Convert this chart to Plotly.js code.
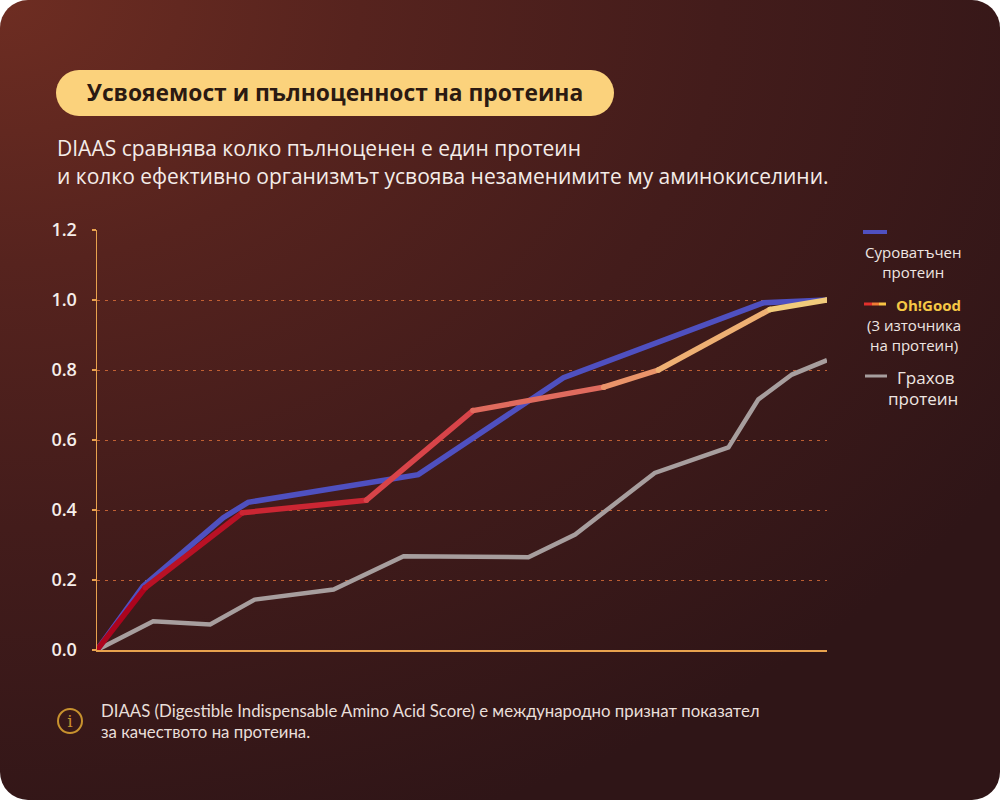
<!DOCTYPE html>
<html>
<head>
<meta charset="utf-8">
<script src="https://cdn.plot.ly/plotly-3.0.1.min.js"></script>
<style>
  html, body { margin: 0; padding: 0; background: #ffffff; }
  #wrap { position: relative; width: 1000px; height: 800px; overflow: hidden; }
  #card {
    position: absolute; left: 0; top: 0; width: 1000px; height: 800px;
    border-radius: 28px;
    background: radial-gradient(ellipse 120% 110% at 0% 0%, #6e2d22 0%, #56231e 30%, #431c1b 60%, #2f1517 100%);
  }
  #pill {
    position: absolute; left: 56px; top: 70px; width: 558px; height: 46px;
    border-radius: 23px; background: #fbd27c;
    font-family: "Open Sans", sans-serif; font-weight: 700; font-size: 22.8px;
    color: #2b1a12; text-align: center; line-height: 46px;
  }
  #sub {
    position: absolute; left: 57px; top: 134px;
    font-family: "Open Sans", sans-serif; font-size: 21px; line-height: 28px;
    color: #f4ece8; white-space: nowrap;
  }
  #note {
    position: absolute; left: 101px; top: 700px;
    font-family: "Lato", sans-serif; font-size: 16.8px; line-height: 21px;
    color: #e9dfda; white-space: nowrap;
  }
  #icon {
    position: absolute; left: 57px; top: 708px; width: 22px; height: 22px;
    border: 2.5px solid #c8922e; border-radius: 50%;
    font-family: "DejaVu Serif", serif; font-size: 17px; color: #c8922e;
    text-align: center; line-height: 22px;
  }
  #plot { position: absolute; left: 0; top: 0; width: 1000px; height: 800px; }
</style>
</head>
<body>
<div id="wrap">
  <div id="card"></div>
  <div id="pill">Усвояемост и пълноценност на протеина</div>
  <div id="sub">DIAAS сравнява колко пълноценен е един протеин<br>и колко ефективно организмът усвоява незаменимите му аминокиселини.</div>
  <div id="plot"></div>
  <div id="icon">i</div>
  <div id="note">DIAAS (Digestible Indispensable Amino Acid Score) е международно признат показател<br>за качеството на протеина.</div>
</div>
<script>
// ---- data ----
var seriesNames = ["Суроватъчен протеин", "Oh!Good (3 източника на протеин)", "Грахов протеин"];
var wheyX = [0, 6.3, 17.3, 20.7, 44.0, 63.9, 91.3, 100];
var wheyY = [0, 0.182, 0.378, 0.422, 0.501, 0.778, 0.992, 1.0];
var ohgoodX = [0, 6.6, 19.9, 36.9, 51.5, 69.4, 76.9, 92.2, 100];
var ohgoodY = [0, 0.178, 0.392, 0.428, 0.684, 0.751, 0.800, 0.973, 1.0];
var peaX = [0, 7.7, 15.5, 21.6, 32.4, 42.0, 59.1, 65.5, 76.4, 86.5, 90.6, 95.2, 100];
var peaY = [0, 0.082, 0.073, 0.144, 0.173, 0.268, 0.265, 0.330, 0.506, 0.579, 0.716, 0.787, 0.828];
var yTickVals = [0, 0.2, 0.4, 0.6, 0.8, 1.0, 1.2];
var yTickText = ["0.0", "0.2", "0.4", "0.6", "0.8", "1.0", "1.2"];

// ---- styling helpers ----
var gradStops = [
  [0.00, [168, 0, 26]],
  [0.25, [200, 32, 46]],
  [0.45, [217, 69, 74]],
  [0.60, [224, 106, 94]],
  [0.75, [235, 154, 108]],
  [1.00, [242, 212, 126]]
];
function gradColor(t) {
  for (var i = 0; i < gradStops.length - 1; i++) {
    var a = gradStops[i], b = gradStops[i + 1];
    if (t <= b[0]) {
      var f = (t - a[0]) / (b[0] - a[0]);
      var c = a[1].map(function (v, k) { return Math.round(v + (b[1][k] - v) * f); });
      return "rgb(" + c.join(",") + ")";
    }
  }
  var l = gradStops[gradStops.length - 1][1];
  return "rgb(" + l.join(",") + ")";
}

var traces = [];
traces.push({
  x: peaX, y: peaY, type: "scatter", mode: "lines", name: seriesNames[2],
  line: { color: "#a79e9e", width: 4.5 }, hoverinfo: "skip"
});
traces.push({
  x: wheyX, y: wheyY, type: "scatter", mode: "lines", name: seriesNames[0],
  line: { color: "#4f50c0", width: 5.5 }, hoverinfo: "skip"
});
var xmax = ohgoodX[ohgoodX.length - 1];
for (var i = 0; i < ohgoodX.length - 1; i++) {
  var col = gradColor(((ohgoodX[i] + ohgoodX[i + 1]) / 2) / xmax);
  traces.push({
    x: [ohgoodX[i], ohgoodX[i + 1]], y: [ohgoodY[i], ohgoodY[i + 1]],
    type: "scatter", mode: "lines+markers", name: seriesNames[1],
    line: { color: col, width: 5.5 },
    marker: { color: col, size: 5.5, line: { width: 0 } },
    cliponaxis: true, hoverinfo: "skip"
  });
}

// pixel helpers for legend placement (plot area 97..827 x 230..650)
function px(p) { return (p - 97) / 730; }
function py(p) { return (650 - p) / 420; }

var legFont = { family: "Open Sans, sans-serif", size: 15, color: "#efe6e2" };
var annotations = [
  { text: "Суроватъчен<br>протеин", x: px(914), y: py(262), xref: "paper", yref: "paper",
    xanchor: "center", yanchor: "middle", showarrow: false, font: legFont, align: "center" },
  { text: "<b>Oh!Good</b>", x: px(894), y: py(305), xref: "paper", yref: "paper",
    xanchor: "left", yanchor: "middle", showarrow: false,
    font: { family: "Open Sans, sans-serif", size: 15, color: "#f6c845" } },
  { text: "(3 източника<br>на протеин)", x: px(914), y: py(335), xref: "paper", yref: "paper",
    xanchor: "center", yanchor: "middle", showarrow: false, font: legFont, align: "center" },
  { text: "Грахов", x: px(895), y: py(377), xref: "paper", yref: "paper",
    xanchor: "left", yanchor: "middle", showarrow: false, font: { family: "Open Sans, sans-serif", size: 17, color: "#efe6e2" } },
  { text: "протеин", x: px(923), y: py(398), xref: "paper", yref: "paper",
    xanchor: "center", yanchor: "middle", showarrow: false, font: { family: "Open Sans, sans-serif", size: 17, color: "#efe6e2" } }
];
var shapes = [
  { type: "line", xref: "paper", yref: "paper", x0: px(863), x1: px(887), y0: py(232), y1: py(232),
    line: { color: "#4f50c0", width: 4 } },
  { type: "line", xref: "paper", yref: "paper", x0: px(864), x1: px(872), y0: py(304), y1: py(304),
    line: { color: "#e2302c", width: 3 } },
  { type: "line", xref: "paper", yref: "paper", x0: px(872), x1: px(879), y0: py(304), y1: py(304),
    line: { color: "#f07a34", width: 3 } },
  { type: "line", xref: "paper", yref: "paper", x0: px(879), x1: px(886), y0: py(304), y1: py(304),
    line: { color: "#f8c444", width: 3 } },
  { type: "line", xref: "paper", yref: "paper", x0: px(865), x1: px(887), y0: py(376), y1: py(376),
    line: { color: "#a79e9e", width: 3 } }
];

var layout = {
  width: 1000, height: 800,
  margin: { l: 97, r: 173, t: 230, b: 150, pad: 0 },
  paper_bgcolor: "rgba(0,0,0,0)", plot_bgcolor: "rgba(0,0,0,0)",
  showlegend: false,
  xaxis: {
    range: [0, 100], showgrid: false, zeroline: false, showticklabels: false,
    ticks: "", showline: true, linecolor: "#e8a24e", linewidth: 1.5, fixedrange: true
  },
  yaxis: {
    range: [0, 1.2], tickvals: yTickVals, ticktext: yTickText,
    showgrid: true, gridcolor: "rgba(222,112,58,0.8)", gridwidth: 1, griddash: "3px,5px",
    zeroline: false, showline: true, linecolor: "#e8a24e", linewidth: 1.5,
    ticks: "outside", ticklen: 4, tickcolor: "#e8a24e", tickwidth: 1.5,
    ticklabelstandoff: 11,
    tickfont: { family: "Open Sans, sans-serif", size: 18, weight: 600, color: "#f6eeea" },
    fixedrange: true
  },
  annotations: annotations,
  shapes: shapes
};

Plotly.newPlot("plot", traces, layout, { displayModeBar: false, staticPlot: true });
</script>
</body>
</html>
